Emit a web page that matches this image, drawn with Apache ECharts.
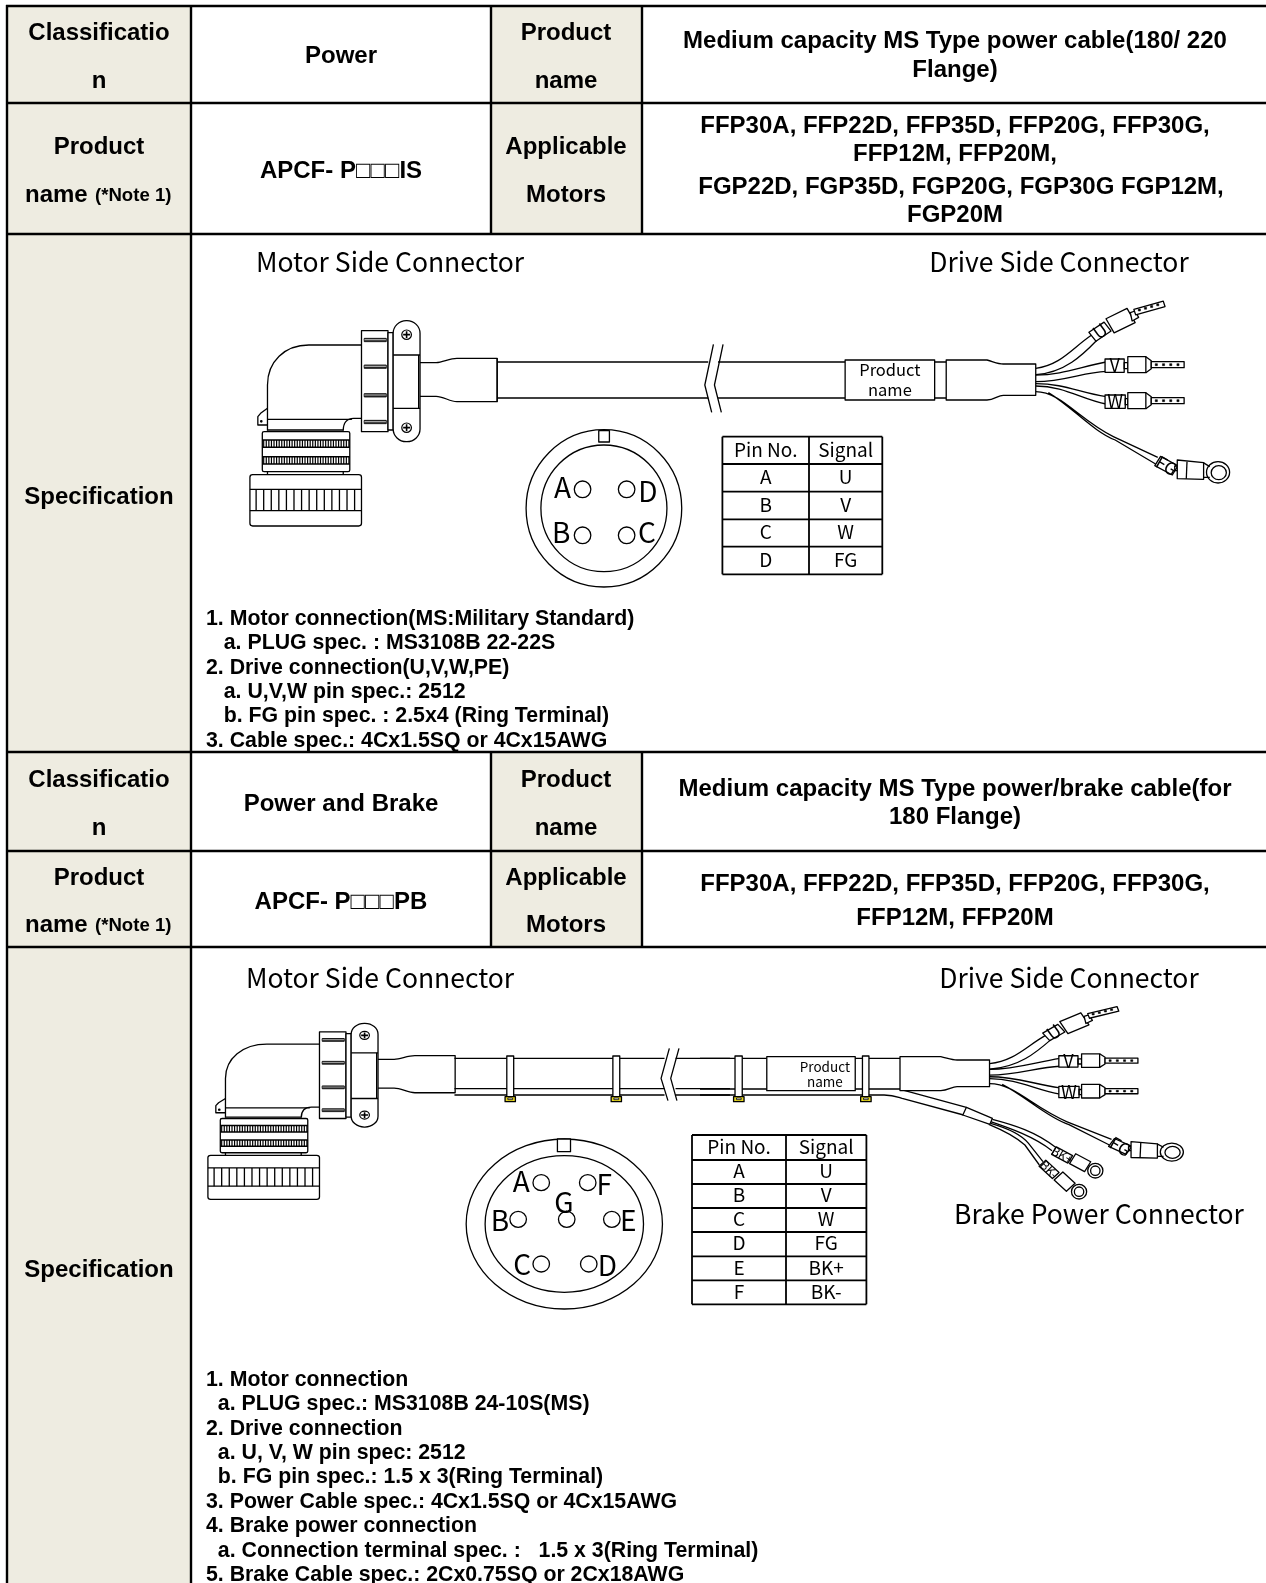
<!DOCTYPE html>
<html>
<head>
<meta charset="utf-8">
<style>html,body{margin:0;padding:0;background:#fff}#main{width:1266px;height:1583px}</style>
<script src="https://cdn.jsdelivr.net/npm/echarts@6/dist/echarts.min.js"></script>
</head>
<body>
<div id="main"></div>
<script>
// cell texts
const classLabel = ['Classificatio', 'n'];
const nameLabel = ['Product', 'name'];
const modelLabel = ['Product', 'name', '(*Note 1)'];
const motorLabel = ['Applicable', 'Motors'];
const specLabel = 'Specification';
const typeNames = ['Power', 'Power and Brake'];
const modelNames = ['APCF- P\u25A1\u25A1\u25A1IS', 'APCF- P\u25A1\u25A1\u25A1PB'];
const titlesA = ['Medium capacity MS Type power cable(180/ 220', 'Flange)'];
const titlesB = ['Medium capacity MS Type power/brake cable(for', '180 Flange)'];
const motorsA = ['FFP30A, FFP22D, FFP35D, FFP20G, FFP30G,', 'FFP12M, FFP20M,', 'FGP22D, FGP35D, FGP20G, FGP30G FGP12M,', 'FGP20M'];
const motorsB = ['FFP30A, FFP22D, FFP35D, FFP20G, FFP30G,', 'FFP12M, FFP20M'];
const specA = [
  '1. Motor connection(MS:Military Standard)',
  '   a. PLUG spec. : MS3108B 22-22S',
  '2. Drive connection(U,V,W,PE)',
  '   a. U,V,W pin spec.: 2512',
  '   b. FG pin spec. : 2.5x4 (Ring Terminal)',
  '3. Cable spec.: 4Cx1.5SQ or 4Cx15AWG'
];
const specB = [
  '1. Motor connection',
  '  a. PLUG spec.: MS3108B 24-10S(MS)',
  '2. Drive connection',
  '  a. U, V, W pin spec: 2512',
  '  b. FG pin spec.: 1.5 x 3(Ring Terminal)',
  '3. Power Cable spec.: 4Cx1.5SQ or 4Cx15AWG',
  '4. Brake power connection',
  '  a. Connection terminal spec. :   1.5 x 3(Ring Terminal)',
  '5. Brake Cable spec.: 2Cx0.75SQ or 2Cx18AWG'
];
// pin tables
const pinHeader = ['Pin No.', 'Signal'];
const pinsA = ['A', 'B', 'C', 'D'];
const signalsA = ['U', 'V', 'W', 'FG'];
const pinsB = ['A', 'B', 'C', 'D', 'E', 'F'];
const signalsB = ['U', 'V', 'W', 'FG', 'BK+', 'BK-'];
const motorSide = 'Motor Side Connector';
const driveSide = 'Drive Side Connector';
const brakeSide = 'Brake Power Connector';
const cableTag = ['Product', 'name'];

const BOLD = '"Liberation Sans", Arial, sans-serif';
const KR = '"Noto Sans CJK KR", "Open Sans", sans-serif';
const SHADE = '#EEECE1';

let kids = [];

function text(x, y, s, font, align, rot) {
  kids.push({
    type: 'text', x: x, y: y, rotation: rot || 0,
    style: { text: s, font: font, fill: '#000', align: align || 'center', verticalAlign: 'middle', textAlign: align || 'center', textVerticalAlign: 'middle' }
  });
}
function box(x0, y0, x1, y1, fill) {
  kids.push({ type: 'rect', shape: { x: x0, y: y0, width: x1 - x0, height: y1 - y0 }, style: { fill: fill } });
}
function seg(x0, y0, x1, y1, w) {
  kids.push({ type: 'line', shape: { x1: x0, y1: y0, x2: x1, y2: y1 }, style: { stroke: '#000', lineWidth: w || 2 } });
}

// path string helpers, all in the local units of a drawing
function rc(x0, y0, x1, y1) { return `M${x0} ${y0} L${x1} ${y0} L${x1} ${y1} L${x0} ${y1} Z `; }
function rr(x0, y0, x1, y1, r) {
  const q = r * 0.45;
  return `M${x0 + r} ${y0} L${x1 - r} ${y0} C${x1 - q} ${y0} ${x1} ${y0 + q} ${x1} ${y0 + r} L${x1} ${y1 - r} C${x1} ${y1 - q} ${x1 - q} ${y1} ${x1 - r} ${y1} L${x0 + r} ${y1} C${x0 + q} ${y1} ${x0} ${y1 - q} ${x0} ${y1 - r} L${x0} ${y0 + r} C${x0} ${y0 + q} ${x0 + q} ${y0} ${x0 + r} ${y0} Z `;
}
function el(cx, cy, rx, ry) {
  const a = rx * 0.5523, b = (ry || rx) * 0.5523; ry = ry || rx;
  return `M${cx - rx} ${cy} C${cx - rx} ${cy - b} ${cx - a} ${cy - ry} ${cx} ${cy - ry} C${cx + a} ${cy - ry} ${cx + rx} ${cy - b} ${cx + rx} ${cy} C${cx + rx} ${cy + b} ${cx + a} ${cy + ry} ${cx} ${cy + ry} C${cx - a} ${cy + ry} ${cx - rx} ${cy + b} ${cx - rx} ${cy} Z `;
}
function rot(cx, cy, w, h, deg) {
  const c = Math.cos(deg * Math.PI / 180), s = Math.sin(deg * Math.PI / 180);
  const p = (u, v) => `${(cx + u * c - v * s).toFixed(1)} ${(cy + u * s + v * c).toFixed(1)}`;
  return `M${p(-w / 2, -h / 2)} L${p(w / 2, -h / 2)} L${p(w / 2, h / 2)} L${p(-w / 2, h / 2)} Z `;
}

// makes a pen that maps local units to page pixels
function pen(map) {
  return {
    map: map,
    path(d, fill, w) {
      const out = [];
      let n = 0, xx = 0;
      d.match(/[MLCZ]|-?[\d.]+/g).forEach(t => {
        if (/[MLCZ]/.test(t)) { out.push(t); return; }
        if (n++ % 2 === 0) { xx = +t; return; }
        const p = map(xx, +t);
        out.push(p[0].toFixed(2), p[1].toFixed(2));
      });
      kids.push({
        type: 'path', shape: { pathData: out.join(' ') },
        style: { fill: fill || 'none', stroke: '#000', lineWidth: w || 1.3, lineJoin: 'round' }
      });
    },
    text(x, y, s, font, r) {
      const p = map(x, y);
      text(p[0], p[1], s, font, 'center', r);
    }
  };
}

function motorConnector(g) {
  // elbow body
  g.path('M225 572 L225 435 C225 365 275 315 345 315 L498 315');
  g.path('M225 505 L205 520 L197 530 L197 555 L225 555');
  g.path(el(207, 544, 2), '#000');
  g.path('M225 538 L470 538 M225 570 L445 570');
  g.path('M445 572 C445 550 455 535 475 535 L498 535');
  // ribbed ring
  g.path(rr(210, 575, 464, 695, 5), '#fff');
  g.path('M210 600 L464 600 M210 622 L464 622 M210 650 L464 650 M210 672 L464 672', null, 1.5);
  let hatch = '';
  for (let x = 214; x < 462; x += 7.5) hatch += `M${x} 600 L${x} 622 M${x} 650 L${x} 672 `;
  g.path(hatch, null, 1.2);
  g.path('M225 695 L225 704 M445 695 L445 704');
  // knob
  g.path(rr(174, 704, 498, 858, 8), '#fff');
  g.path('M174 748 L498 748 M174 812 L498 812');
  let ribs = '';
  for (let x = 192; x < 490; x += 22) ribs += `M${x} 748 L${x} 812 `;
  g.path(ribs);
  // flange
  g.path(rc(498, 272, 575, 575), '#fff');
  g.path(rc(575, 278, 590, 570), '#fff');
  [300, 380, 466, 546].forEach(y => g.path(rc(506, y - 5, 570, y + 5), '#333', 0.8));
  [300, 380, 466, 546].forEach(y => g.path(rc(506, y - 3, 570, y + 1), '#ddd', 0.4));
  // clamp plate
  g.path(rr(590, 242, 668, 605, 38), '#fff');
  g.path('M590 345 L668 345 M590 505 L668 505');
  g.path('M664 345 L664 505');
  [284, 563].forEach(y => {
    g.path(el(629, y, 14), '#fff', 1.2);
    g.path(`M619 ${y} L639 ${y} M629 ${y - 10} L629 ${y + 10}`, null, 1.6);
  });
  // strain relief
  g.path('M668 368 L715 368 C735 366 755 355 775 355 L892 355 L892 485 L775 485 C755 485 735 469 715 469 L668 469');
}

function drivePart(g) {
  // wires first, sleeves are painted over them
  g.path('M930 385 C1000 375 1030 325 1085 285 M930 404 C1010 398 1060 345 1100 300');
  g.path('M930 405 C1000 405 1050 382 1125 366 M930 425 C1010 425 1060 397 1125 394');
  g.path('M930 431 C1010 431 1050 458 1125 470 M930 438 C1010 438 1060 480 1125 492');
  g.path('M930 455 C1000 455 1050 540 1145 590 L1268 652 M965 458 C1030 500 1090 575 1150 600 L1262 672');
  // U
  g.path(rot(1108, 275, 52, 33, -36), '#fff');
  g.text(1108, 273, 'U', `18px ${KR}`, 0.63);
  g.path(rot(1165, 242, 66, 48, -28), '#fff');
  g.path('M1192 218 L1205 213 L1215 232 L1197 243 Z', '#fff');
  g.path(rot(1245, 204, 85, 17, -17), '#fff');
  let d = '';
  [1217, 1234, 1251, 1268].forEach((x, i) => { d += rc(x - 3, 210 - i * 5.2 - 3, x + 3, 210 - i * 5.2 + 3); });
  g.path(d, '#000', 0.5);
  // V and W
  [[374, 'V', 1122, 1175], [482, 'W', 1122, 1178]].forEach(r => {
    const y = r[0];
    g.path(rc(r[2], y - 17, r[3], y + 23), '#fff');
    g.text((r[2] + r[3]) / 2, y + 2, r[1], `18px ${KR}`);
    g.path(rc(r[3], y - 6, 1185, y + 12));
    g.path(rc(1185, y - 24, 1235, y + 24), '#fff');
    g.path(`M1235 ${y - 24} L1250 ${y - 12} L1250 ${y + 12} L1235 ${y + 24}`);
    g.path(rc(1250, y - 9, 1341, y + 9), '#fff');
    let p = '';
    [1264, 1284, 1304, 1324].forEach(x => { p += rc(x - 3, y - 3, x + 3, y + 3); });
    g.path(p, '#000', 0.5);
  });
  // FG ring terminal
  g.path(rot(1292, 677, 56, 32, 30), '#fff');
  g.text(1292, 677, 'FG', `17px ${KR}`, -0.52);
  g.path(rc(1315, 678, 1325, 692));
  g.path(el(1435, 697, 32, 32), '#fff');
  g.path(el(1437, 698, 21, 21), '#fff');
  g.path('M1394 668 L1412 680 M1394 712 L1412 712');
  g.path('M1322 660 L1395 668 L1395 718 L1322 716 Z', '#fff');
  g.path('M1349 665 L1347 716');
  // boot
  g.path('M682 360 L795 360 C815 366 825 372 840 372 L930 372 L930 466 L840 466 C825 466 815 480 795 480 L682 480 Z', '#fff');
}

function pinTable(xs, ys, head, left, right, size) {
  const f = `${size}px ${KR}`;
  ys.forEach(y => seg(xs[0], y, xs[2], y, 1.8));
  xs.forEach(x => seg(x, ys[0], x, ys[ys.length - 1], 1.8));
  const cx0 = (xs[0] + xs[1]) / 2, cx1 = (xs[1] + xs[2]) / 2;
  text(cx0, (ys[0] + ys[1]) / 2 - 1, head[0], f);
  text(cx1, (ys[0] + ys[1]) / 2 - 1, head[1], f);
  left.forEach((s, i) => {
    text(cx0, (ys[i + 1] + ys[i + 2]) / 2 - 1, s, f);
    text(cx1, (ys[i + 1] + ys[i + 2]) / 2 - 1, right[i], f);
  });
}

function buildPage() {
  kids = [];
  const L = 7, C1 = 191, C2 = 491, C3 = 642, R = 1266;
  const H = [6, 103, 234, 752, 851, 947];
  const F = `bold 24px ${BOLD}`, F2 = `bold 24px ${BOLD}`, FS = `bold 21.3px ${BOLD}`;

  // shading
  box(L, H[0], C1, 1583, SHADE);
  box(C2, H[0], C3, H[2], SHADE);
  box(C2, H[3], C3, H[5], SHADE);

  // grid
  H.forEach((y, i) => seg(L - 1, y, R, y, 2.4));
  seg(L, H[0] - 1, L, 1583, 2.4); seg(C1, H[0] - 1, C1, 1583, 2.4);
  [C2, C3].forEach(x => { seg(x, H[0], x, H[2], 2.4); seg(x, H[3], x, H[5], 2.4); });

  // both header blocks
  [[0, 33, 81, 56, 147, 195, 171, titlesA, [41, 70], motorsA, [126, 154, 187, 215]],
   [1, 780, 828, 804, 878, 925, 902, titlesB, [789, 817], motorsB, [884, 918]]].forEach(b => {
    const i = b[0];
    text(99, b[1], classLabel[0], F); text(99, b[2], classLabel[1], F);
    text(341, b[3], typeNames[i], F);
    text(566, b[1], nameLabel[0], F); text(566, b[2], nameLabel[1], F);
    b[7].forEach((s, k) => text(955, b[8][k], s, F2));
    text(99, b[4], modelLabel[0], F);
    text(25, b[5], modelLabel[1], F, 'left');
    text(95, b[5] + 1, modelLabel[2], `bold 18.6px ${BOLD}`, 'left');
    text(341, b[6], modelNames[i], F);
    text(566, b[4], motorLabel[0], F); text(566, b[5], motorLabel[1], F);
    // the long FGP line sits a little right of centre
    b[9].forEach((s, k) => text(k === 2 ? 961 : 955, b[10][k], s, F2));
  });
  text(99, 497, specLabel, F);
  text(99, 1270, specLabel, F);

  // spec notes
  specA.forEach((s, i) => text(206, 619 + i * 24.4, s, FS, 'left'));
  specB.forEach((s, i) => text(206, 1380 + i * 24.4, s, FS, 'left'));

  // section titles
  const FT = `26.5px ${KR}`;
  text(390, 262, motorSide, FT); text(1059, 262, driveSide, FT);
  text(380, 978, motorSide, FT); text(1069, 978, driveSide, FT);
  text(1099, 1214, brakeSide, FT);

  // first drawing
  const a1 = pen((x, y) => [190 + x / 2.904, 240 + y / 3]);
  const a2 = pen((x, y) => [700 + x / 2.77, 240 + y / 3]);
  a1.path('M892 355 L892 485 M892 366 L1505 366 M892 474 L1505 474');
  a2.path('M50 366 L402 366 M50 474 L402 474 M650 366 L682 366 M650 474 L682 474');
  a1.path('M1520 313 L1495 435 L1515 517 M1548 313 L1523 435 L1543 517');
  motorConnector(a1);
  drivePart(a2);
  a2.path(rc(402, 360, 650, 480), '#fff');
  a2.text(526, 389, cableTag[0], `16.5px ${KR}`);
  a2.text(526, 449, cableTag[1], `16.5px ${KR}`);
  // 4 pin face
  a1.path(el(1202, 805, 226, 236) + el(1202, 805, 183, 190));
  a1.path(rc(1187, 572, 1218, 606), '#fff');
  [[1140, 748], [1268, 748], [1140, 886], [1268, 886]].forEach(c => a1.path(el(c[0], c[1], 24, 25)));
  const FP = `28px ${KR}`;
  a1.text(1082, 742, 'A', FP); a1.text(1330, 755, 'D', FP);
  a1.text(1078, 878, 'B', FP); a1.text(1327, 878, 'C', FP);
  pinTable([722.4, 809, 882.3], [436.7, 464, 491.7, 519.3, 546.7, 574.3], pinHeader, pinsA, signalsA, 19);

  // second drawing, same parts with a flatter height
  const b1 = pen((x, y) => [190 + x / 2.904, 960 + y / 3]);
  const b2 = pen((x, y) => [700 + x / 2.77, 960 + y / 3]);
  const conn2 = pen((x, y) => [190 + (x - 122) / 2.904, 960 + ((y - 704) * 0.857 + 586) / 3]);
  const drive2 = pen((x, y) => [700 + (x - 128) / 2.77, 960 + (340 + (y - 419) * 0.85) / 3]);
  b1.path('M768 295 L1378 295 M768 386 L1378 386 M768 405 L1378 405 M1410 295 L1568 295 M1410 386 L1568 386 M1410 405 L1568 405');
  b2.path('M0 295 L555 295 M0 387 L555 387 M0 405 L510 405 C535 405 545 410 560 415 L730 465 M555 388 L738 442');
  b1.path('M1392 265 L1368 355 L1388 422 M1420 265 L1396 355 L1414 422');
  // clips
  [[b1, 920, 940, 915, 945], [b1, 1228, 1248, 1223, 1253], [b2, 97, 117, 93, 122], [b2, 450, 468, 445, 474]].forEach(c => {
    c[0].path(rc(c[1], 288, c[2], 410), '#fff');
    c[0].path(rc(c[3], 410, c[4], 425), '#e8d820', 1.3);
    c[0].path(rc(c[3] + 8, 414, c[4] - 8, 419), '#fff', 0.8);
  });
  motorConnector(conn2);
  b2.path('M810 478 C870 495 930 515 985 562 M805 485 C860 505 925 530 975 572');
  b2.path('M805 490 C870 510 895 530 910 550 L950 605 M800 493 C860 520 885 540 900 555 L940 615');
  b2.path('M738 442 L810 475 L803 493 L728 465 Z', '#fff');
  drivePart(drive2);
  b2.path(rc(185, 290, 430, 392), '#fff');
  b2.text(346, 320, cableTag[0], `13.5px ${KR}`);
  b2.text(346, 365, cableTag[1], `13.5px ${KR}`);
  // brake terminals
  [[1003, 585, 30, 1053, 608, 1095, 632, 'BK+'], [967, 628, 45, 1010, 665, 1050, 695, 'BK-']].forEach(t => {
    b2.path(rot(t[0], t[1], 52, 26, t[2]), '#fff');
    b2.text(t[0], t[1], t[7], `12px ${KR}`, -t[2] * Math.PI / 180);
    b2.path(el(t[5], t[6], 21, 22), '#fff');
    b2.path(el(t[5], t[6], 13, 14), '#fff');
    b2.path(rot(t[3], t[4], 48, 34, t[2]), '#fff');
  });
  // 7 pin face
  b1.path(el(1087, 792, 285, 255) + el(1087, 792, 230, 205));
  b1.path(rc(1067, 537, 1105, 575), '#fff');
  [[1020, 668], [1155, 668], [953, 778], [1094, 778], [1225, 778], [1020, 912], [1158, 912]].forEach(c => b1.path(el(c[0], c[1], 24, 24)));
  [['A', 962, 665], ['F', 1203, 672], ['G', 1086, 727], ['B', 900, 780], ['E', 1273, 780], ['C', 965, 912], ['D', 1212, 915]].forEach(c => b1.text(c[1], c[2], c[0], FP));
  pinTable([692, 786, 866.4], [1135, 1160, 1184, 1208, 1232, 1256.3, 1280.3, 1304.3], pinHeader, pinsB, signalsB, 19);

  return { type: 'group', children: kids };
}

const chart = echarts.init(document.getElementById('main'), null, { renderer: 'canvas' });
chart.setOption({
  animation: false,
  backgroundColor: '#fff',
  series: [{
    type: 'custom',
    coordinateSystem: 'none',
    silent: true,
    data: [0],
    renderItem: buildPage
  }]
});
</script>
</body>
</html>
